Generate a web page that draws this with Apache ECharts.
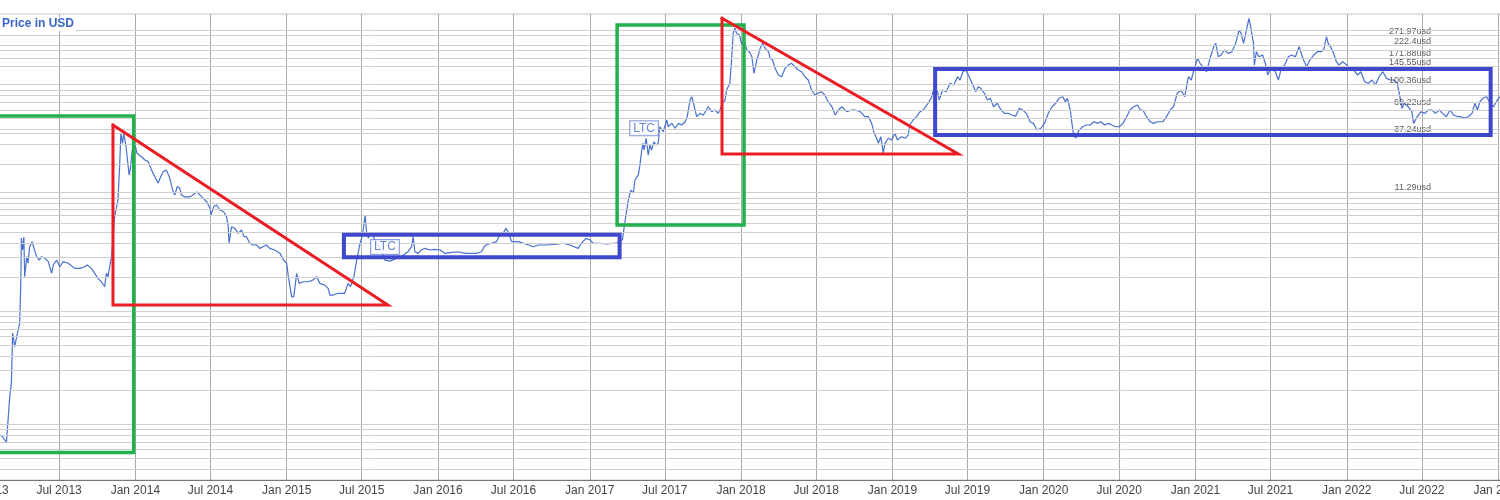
<!DOCTYPE html>
<html>
<head>
<meta charset="utf-8">
<script src="https://cdn.jsdelivr.net/npm/echarts@6/dist/echarts.min.js"></script>
<style>
html,body{margin:0;padding:0;background:#fff;}
#chart{width:1500px;height:500px;}
</style>
</head>
<body>
<div id="chart"></div>
<script>
// ---- LTC price (USD) ----
const ltc2013 = [['2013-02-08',0.081],['2013-02-15',0.078],['2013-02-24',0.069],['2013-02-28',0.068],['2013-03-04',0.176],['2013-03-08',0.233],['2013-03-11',0.642],['2013-03-16',0.486],['2013-03-20',0.58],['2013-03-24',0.557],['2013-03-28',0.787],['2013-03-31',2.02],['2013-04-01',4.43],['2013-04-04',3.47],['2013-04-07',4.52],['2013-04-09',2.02],['2013-04-14',3.03],['2013-04-17',2.66],['2013-04-21',3.71],['2013-04-27',4.11],['2013-05-04',3.35],['2013-05-08',3.03],['2013-05-14',2.83],['2013-05-20',3.03],['2013-05-28',2.93],['2013-06-05',2.74],['2013-06-13',2.16],['2013-06-17',2.56],['2013-06-25',2.83],['2013-07-03',2.47],['2013-07-11',2.74],['2013-07-23',2.65],['2013-08-08',2.39],['2013-08-20',2.39],['2013-09-01',2.47],['2013-09-07',2.56],['2013-09-17',2.39],['2013-09-25',2.16],['2013-10-03',1.95],['2013-10-11',1.82],['2013-10-19',1.65],['2013-10-23',2.16],['2013-10-27',2.02],['2013-10-31',2.47],['2013-11-05',3.13],['2013-11-12',6.82],['2013-11-20',9.58],['2013-11-24',18.9],['2013-11-27',37.2],['2013-12-01',30.3],['2013-12-04',37.2],['2013-12-09',29.3],['2013-12-12',30.3],['2013-12-17',15.9],['2013-12-20',18.2],['2013-12-24',17.6],['2013-12-27',32.4]];
const ltc2014 = [['2014-01-01',28.4],['2014-01-05',24.8],['2014-01-10',23.9],['2014-01-16',23.1],['2014-01-24',21.6],['2014-02-01',20.9],['2014-02-09',17.6],['2014-02-17',15.4],['2014-02-25',13.5],['2014-03-03',15.4],['2014-03-09',17.0],['2014-03-17',17.6],['2014-03-25',14.9],['2014-04-01',11.7],['2014-04-06',10.6],['2014-04-12',12.6],['2014-04-18',12.2],['2014-04-22',10.6],['2014-04-30',10.2],['2014-05-12',10.2],['2014-05-20',10.6],['2014-05-29',11.3],['2014-06-06',10.6],['2014-06-14',9.92],['2014-06-22',9.26],['2014-06-30',8.10],['2014-07-02',7.07],['2014-07-09',8.36],['2014-07-16',8.66],['2014-07-24',7.82],['2014-08-02',7.55],['2014-08-09',6.82],['2014-08-13',5.57],['2014-08-15',3.98],['2014-08-21',5.57],['2014-08-29',5.39],['2014-09-06',4.87],['2014-09-14',5.21],['2014-09-20',4.55],['2014-09-26',4.55],['2014-10-04',3.98],['2014-10-12',3.84],['2014-10-20',3.84],['2014-10-28',3.59],['2014-11-05',3.71],['2014-11-13',3.84],['2014-11-21',3.59],['2014-12-03',3.47],['2014-12-16',3.24],['2014-12-24',2.83]];
const ltc2015 = [['2015-01-01',2.65],['2015-01-05',2.02],['2015-01-09',1.65],['2015-01-13',1.34],['2015-01-18',1.34],['2015-01-25',2.16],['2015-01-31',1.76],['2015-02-10',1.82],['2015-02-22',1.82],['2015-03-06',1.89],['2015-03-14',2.02],['2015-03-22',1.76],['2015-04-03',1.70],['2015-04-11',1.59],['2015-04-15',1.39],['2015-04-23',1.39],['2015-05-05',1.44],['2015-05-21',1.44],['2015-05-29',1.76],['2015-06-04',1.65],['2015-06-12',2.02],['2015-06-19',2.83],['2015-06-27',3.98],['2015-07-03',4.71],['2015-07-09',7.07],['2015-07-13',4.87],['2015-07-17',4.40],['2015-07-21',4.87],['2015-07-29',4.55],['2015-08-06',3.98],['2015-08-16',3.47],['2015-08-26',2.83],['2015-09-07',2.77],['2015-09-23',2.93],['2015-10-06',3.07],['2015-10-20',3.33],['2015-10-29',3.71],['2015-11-02',4.55],['2015-11-06',3.35],['2015-11-14',3.24],['2015-11-22',3.47],['2015-11-30',3.59],['2015-12-12',3.47],['2015-12-24',3.52]];
const ltc2016 = [['2016-01-06',3.47],['2016-01-18',3.24],['2016-01-30',3.29],['2016-02-15',3.35],['2016-02-27',3.29],['2016-03-10',3.24],['2016-04-03',3.24],['2016-04-15',3.35],['2016-04-21',3.71],['2016-04-27',3.86],['2016-05-09',3.98],['2016-05-21',4.11],['2016-05-29',4.71],['2016-06-06',4.87],['2016-06-13',5.39],['2016-06-18',5.03],['2016-06-22',4.55],['2016-06-27',4.11],['2016-07-01',4.25],['2016-07-13',4.11],['2016-07-25',3.98],['2016-08-06',3.84],['2016-08-18',3.71],['2016-08-30',3.84],['2016-09-19',3.84],['2016-10-13',3.90],['2016-10-29',3.98],['2016-11-14',3.84],['2016-12-04',3.59],['2016-12-12',3.98],['2016-12-23',4.40]];
const ltc2017 = [['2017-01-02',4.25],['2017-01-09',3.98],['2017-01-26',3.98],['2017-02-11',3.92],['2017-02-27',3.98],['2017-03-07',3.98],['2017-03-21',4.3],['2017-03-27',6.2],['2017-04-04',9.58],['2017-04-10',11.7],['2017-04-16',11.0],['2017-04-20',14.4],['2017-04-28',15.9],['2017-05-02',19.5],['2017-05-06',25.6],['2017-05-09',30.3],['2017-05-12',26.5],['2017-05-17',33.6],['2017-05-22',23.9],['2017-05-26',29.3],['2017-05-30',26.5],['2017-06-05',31.3],['2017-06-10',29.3],['2017-06-15',30.3],['2017-06-19',42.5],['2017-06-27',38.4],['2017-07-06',48.7],['2017-07-09',42.5],['2017-07-18',45.5],['2017-07-26',41.2],['2017-08-03',45.5],['2017-08-11',44.0],['2017-08-19',47.0],['2017-08-24',52.1],['2017-08-31',73.1],['2017-09-04',78.2],['2017-09-12',59.7],['2017-09-16',52.1],['2017-09-24',55.8],['2017-10-02',53.9],['2017-10-14',63.8],['2017-10-22',57.7],['2017-10-30',59.7],['2017-11-07',55.8],['2017-11-11',59.7],['2017-11-16',67.4],['2017-11-23',73.1],['2017-11-27',89.6],['2017-12-05',102.7],['2017-12-09',164.9],['2017-12-13',283.7],['2017-12-17',314.1],['2017-12-21',283.7],['2017-12-28',274]];
const ltc2018 = [['2018-01-03',223.6],['2018-01-08',247.5],['2018-01-15',202],['2018-01-21',195.2],['2018-01-27',176.3],['2018-02-01',125.9],['2018-02-08',164.9],['2018-02-16',209],['2018-02-22',231.5],['2018-02-28',209],['2018-03-08',195.2],['2018-03-12',170.7],['2018-03-18',164.9],['2018-03-24',139.3],['2018-04-01',121.5],['2018-04-09',117.4],['2018-04-17',139.3],['2018-04-25',148.9],['2018-05-03',154.2],['2018-05-11',143.9],['2018-05-19',134.5],['2018-05-27',130],['2018-06-04',117.4],['2018-06-12',109.8],['2018-06-20',89.6],['2018-06-28',81],['2018-07-06',83.8],['2018-07-14',86.6],['2018-07-22',81],['2018-07-30',70.6],['2018-08-08',63.8],['2018-08-16',53.9],['2018-08-24',59.7],['2018-09-01',63.8],['2018-09-13',57.7],['2018-09-25',59.7],['2018-10-03',59.7],['2018-10-15',57.7],['2018-10-27',52.1],['2018-11-04',52.1],['2018-11-12',45.5],['2018-11-18',37.2],['2018-11-24',33.6],['2018-11-28',30.3],['2018-12-04',34.7],['2018-12-10',24.8],['2018-12-14',30.3],['2018-12-22',33.6],['2018-12-30',32.4]];
const ltc2019 = [['2019-01-07',37.2],['2019-01-13',32.4],['2019-01-23',34.7],['2019-02-01',33.6],['2019-02-08',35.9],['2019-02-12',44.0],['2019-02-20',48.7],['2019-03-01',52.7],['2019-03-09',57.7],['2019-03-16',59.7],['2019-03-28',68.4],['2019-04-06',78.2],['2019-04-10',89.6],['2019-04-14',81.0],['2019-04-19',89.6],['2019-04-24',73.1],['2019-05-02',89.6],['2019-05-11',86.6],['2019-05-20',102.7],['2019-05-29',99.2],['2019-06-07',117.4],['2019-06-13',109.8],['2019-06-20',130],['2019-06-27',134.5],['2019-07-03',121.5],['2019-07-07',125.9],['2019-07-14',99.2],['2019-07-21',86.6],['2019-07-27',95.8],['2019-08-02',92.8],['2019-08-11',83.8],['2019-08-18',73.1],['2019-08-25',75.7],['2019-09-02',63.8],['2019-09-11',68.4],['2019-09-20',59.7],['2019-09-28',55.8],['2019-10-07',55.8],['2019-10-16',53.9],['2019-10-25',52.7],['2019-11-03',61.8],['2019-11-11',59.7],['2019-11-20',55.8],['2019-11-29',47.0],['2019-12-07',45.5],['2019-12-16',39.7],['2019-12-25',41.2]];
const ltc2020 = [['2020-01-03',45.5],['2020-01-12',55.8],['2020-01-21',63.8],['2020-01-30',68.4],['2020-02-07',75.7],['2020-02-16',78.2],['2020-02-22',70.6],['2020-02-27',75.7],['2020-03-05',59.7],['2020-03-09',45.5],['2020-03-13',35.9],['2020-03-18',33.6],['2020-03-26',39.7],['2020-04-04',42.5],['2020-04-13',44.0],['2020-04-22',44.0],['2020-05-01',47.0],['2020-05-10',45.5],['2020-05-18',47.0],['2020-05-27',44.0],['2020-06-05',45.5],['2020-06-13',44.0],['2020-06-22',42.5],['2020-07-01',42.5],['2020-07-10',45.5],['2020-07-19',52.1],['2020-07-27',59.7],['2020-08-05',63.8],['2020-08-14',66.1],['2020-08-21',59.7],['2020-08-27',59.7],['2020-09-05',52.1],['2020-09-14',47.0],['2020-09-22',45.5],['2020-10-01',47.0],['2020-10-14',47.0],['2020-10-23',52.1],['2020-11-01',59.7],['2020-11-09',63.8],['2020-11-18',83.8],['2020-11-27',89.6],['2020-12-06',78.2],['2020-12-15',117.4],['2020-12-22',109.8],['2020-12-28',134.5]];
const ltc2021 = [['2021-01-06',170.7],['2021-01-12',154.2],['2021-01-21',140],['2021-01-28',130],['2021-02-05',170.7],['2021-02-14',216],['2021-02-19',231.5],['2021-02-25',176.3],['2021-03-04',182.5],['2021-03-12',202],['2021-03-21',188.8],['2021-03-30',195.2],['2021-04-08',231.5],['2021-04-16',303.3],['2021-04-21',283.7],['2021-04-27',231.5],['2021-05-04',303.3],['2021-05-10',384.8],['2021-05-14',324.3],['2021-05-21',231.5],['2021-05-23',148.9],['2021-05-28',195.2],['2021-06-03',176.3],['2021-06-12',182.5],['2021-06-21',143.9],['2021-06-24',121.5],['2021-06-30',134.5],['2021-07-09',140],['2021-07-20',109.8],['2021-07-26',134.5],['2021-08-04',148.9],['2021-08-13',176.3],['2021-08-21',182.5],['2021-08-30',176.3],['2021-09-08',216],['2021-09-17',170.7],['2021-09-26',143.9],['2021-10-04',164.9],['2021-10-13',182.5],['2021-10-22',195.2],['2021-10-31',195.2],['2021-11-06',202],['2021-11-13',264.8],['2021-11-17',231.5],['2021-11-23',216],['2021-11-30',188.8],['2021-12-07',159.3],['2021-12-13',148.9],['2021-12-22',159.3]];
const ltc2022 = [['2022-01-01',148.9],['2022-01-09',140],['2022-01-18',134.5],['2022-01-27',121.5],['2022-02-04',130],['2022-02-13',106.1],['2022-02-22',102.7],['2022-03-03',109.8],['2022-03-11',99.2],['2022-03-20',117.4],['2022-03-29',130],['2022-04-07',113.6],['2022-04-15',109.8],['2022-04-24',109.8],['2022-05-03',102.7],['2022-05-09',78.2],['2022-05-14',61.8],['2022-05-20',68.4],['2022-05-29',63.8],['2022-06-07',57.7],['2022-06-11',45.5],['2022-06-20',52.1],['2022-06-29',57.7],['2022-07-08',55.8],['2022-07-17',59.7],['2022-07-25',59.7],['2022-08-03',55.8],['2022-08-12',59.7],['2022-08-20',55.8],['2022-08-29',52.1],['2022-09-07',59.7],['2022-09-16',53.9],['2022-09-25',52.1],['2022-10-03',52.1],['2022-10-12',50.7],['2022-10-21',52.1],['2022-10-30',55.8],['2022-11-06',68.4],['2022-11-12',59.7],['2022-11-18',70.6],['2022-11-25',75.7],['2022-12-04',78.2],['2022-12-13',68.4],['2022-12-21',63.8],['2022-12-30',73.1],['2023-01-05',78.2]];

// ---- price levels annotated on the right ----
const levelValues = [271.97, 222.4, 171.88, 145.55, 100.36, 69.22, 37.24, 11.29];
const levelLabelDate = '2022-07-23';

// ---- log gridline values ----
const gridValues = [0.04,0.05,0.06,0.07,0.08,0.09,0.1,0.2,0.3,0.4,0.5,0.6,0.7,0.8,0.9,1,2,3,4,5,6,7,8,9,10,20,30,40,50,60,70,80,90,100,200,300];

// ---- "LTC" markers ----
const ltcMarks = [['2015-08-26',3.69],['2017-05-12',41.2]];

// ---- hand-drawn annotation shapes (date, price) ----
const greenBox1 = [['2012-12-22',52.8],['2013-12-28',52.8],['2013-12-28',0.0568],['2012-12-22',0.0568],['2012-12-22',52.8]];
const redTri1   = [['2013-11-08',44.0],['2013-11-08',1.134],['2015-09-02',1.134],['2013-11-08',44.0]];
const blueBox1  = [['2015-05-19',4.73],['2017-03-14',4.73],['2017-03-14',2.99],['2015-05-19',2.99],['2015-05-19',4.73]];
const greenBox2 = [['2017-03-08',335.7],['2018-01-08',335.7],['2018-01-08',5.77],['2017-03-08',5.77],['2017-03-08',335.7]];
const redTri2   = [['2017-11-16',384.8],['2017-11-16',24.4],['2019-06-09',24.4],['2017-11-16',384.8]];
const blueBox2  = [['2019-04-14',137.3],['2022-12-14',137.3],['2022-12-14',35.9],['2019-04-14',35.9],['2019-04-14',137.3]];

const priceSeries = [].concat(ltc2013, ltc2014, ltc2015, ltc2016, ltc2017, ltc2018, ltc2019, ltc2020, ltc2021, ltc2022);

const FONT = 'Liberation Sans, Arial, sans-serif';
const RED = '#ed1c24', GREEN = '#22b14c', BLUE = '#3f48cc';

function shape(data, color, width) {
  return {
    type: 'line', data: data, showSymbol: false, symbol: 'none', silent: true,
    z: 5, clip: false,
    lineStyle: { color: color, width: width, cap: 'square', join: 'miter' },
    animation: false
  };
}

const chart = echarts.init(document.getElementById('chart'), null, { renderer: 'canvas' });
chart.setOption({
  backgroundColor: '#fff',
  animation: false,
  title: {
    text: 'Price in USD', left: 0, top: 17, padding: [1, 2, 1, 2],
    backgroundColor: '#fff',
    textStyle: { color: '#3a66cc', fontSize: 12, fontWeight: 'bold', fontFamily: FONT }
  },
  grid: { left: -40, right: -40, top: 14, bottom: 20, containLabel: false, outerBoundsMode: 'none',
          show: true, borderColor: '#c8c8c8', borderWidth: 1 },
  xAxis: {
    type: 'time', min: '2012-11-04', max: '2023-04-12',
    splitNumber: 21, minInterval: 180 * 86400000, maxInterval: 184 * 86400000,
    axisLine: { show: true, lineStyle: { color: '#777', width: 1 } },
    axisTick: { show: false },
    axisLabel: {
      interval: 0, hideOverlap: false, showMinLabel: true, showMaxLabel: true,
      color: '#444', fontSize: 12, fontFamily: FONT, margin: 5,
      formatter: function (v) {
        const d = new Date(v);
        if (d.getDate() === 1 && d.getHours() === 0 && (d.getMonth() === 0 || d.getMonth() === 6)) {
          return (d.getMonth() === 0 ? 'Jan ' : 'Jul ') + d.getFullYear();
        }
        return '';
      }
    },
    splitLine: { show: true, interval: 0, lineStyle: { color: '#aaa', width: 1 } }
  },
  yAxis: {
    type: 'log', logBase: 10, min: 0.0324, max: 420,
    axisLine: { show: false }, axisTick: { show: false }, axisLabel: { show: false },
    splitLine: { show: false }
  },
  series: [
    {
      type: 'line', data: [], z: 1, silent: true,
      markLine: {
        silent: true, symbol: ['none', 'none'], animation: false,
        label: { show: false },
        lineStyle: { color: '#cfcfcf', width: 1, type: 'solid' },
        data: gridValues.concat(levelValues).map(v => ({ yAxis: v }))
      }
    },
    {
      type: 'line', data: priceSeries, showSymbol: false, symbol: 'none', z: 3,
      lineStyle: { color: '#4a70d0', width: 1.2 }, animation: false
    },
    {
      type: 'scatter', z: 4, symbolSize: 0, silent: true,
      data: levelValues.map(v => ({
        value: [levelLabelDate, v],
        label: { offset: [0, v === 69.22 ? 0 : -4] }
      })),
      label: {
        show: true, position: 'left', distance: 0,
        fontSize: 9, color: '#333', fontFamily: FONT,
        formatter: p => p.value[1] + 'usd'
      }
    },
    shape(greenBox1, GREEN, 3.5),
    shape(redTri1, RED, 3),
    shape(blueBox1, BLUE, 4),
    shape(greenBox2, GREEN, 3.5),
    shape(redTri2, RED, 3),
    shape(blueBox2, BLUE, 4),
    {
      type: 'scatter', z: 6, symbolSize: 0, silent: true,
      data: ltcMarks,
      label: {
        show: true, position: 'inside', formatter: 'LTC',
        fontSize: 12, color: '#4466cc', fontFamily: FONT,
        backgroundColor: '#fff', borderColor: '#6d87d8', borderWidth: 1,
        padding: [1, 3, 1, 3]
      }
    }
  ]
});
</script>
</body>
</html>
